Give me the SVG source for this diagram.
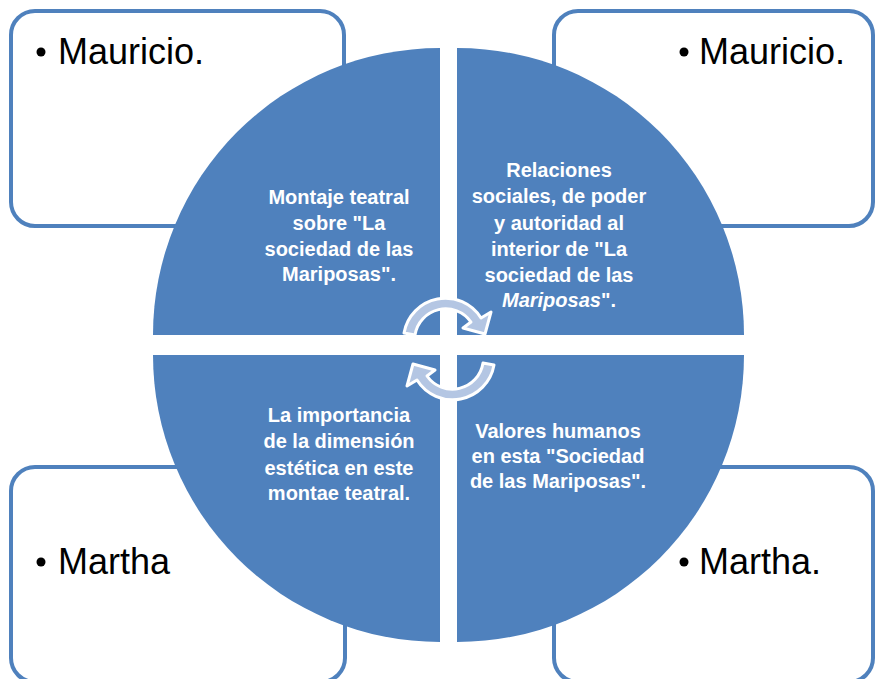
<svg xmlns="http://www.w3.org/2000/svg" width="876" height="679" viewBox="0 0 876 679">
<style>
.box{fill:#ffffff;stroke:#4f81bd;stroke-width:4}
.quad{fill:#4f81bd}
.lbl{font-family:"Liberation Sans",Arial,sans-serif;font-size:36px;fill:#000000}
.bul{fill:#000000}
.qt{font-family:"Liberation Sans",Arial,sans-serif;font-size:20px;font-weight:bold;fill:#ffffff;text-anchor:middle}
.arrow{fill:#b4c6e3;stroke:#ffffff;stroke-width:3;stroke-linejoin:round}
</style>
<rect width="876" height="679" fill="#ffffff"/>
<g id="box-tl"><rect class="box" x="11" y="11" width="333" height="215" rx="24"/><circle class="bul" cx="41" cy="52" r="4.5"/><text class="lbl" x="58" y="64">Mauricio.</text></g>
<g id="box-tr"><rect class="box" x="554" y="11" width="319" height="215" rx="24"/><circle class="bul" cx="684" cy="52" r="4.5"/><text class="lbl" x="699" y="64">Mauricio.</text></g>
<g id="box-bl"><rect class="box" x="11" y="467" width="334" height="215" rx="24"/><circle class="bul" cx="41" cy="562" r="4.5"/><text class="lbl" x="58" y="574">Martha</text></g>
<g id="box-br"><rect class="box" x="554" y="467" width="319" height="215" rx="24"/><circle class="bul" cx="684" cy="562" r="4.5"/><text class="lbl" x="699" y="574">Martha.</text></g>
<g id="quad-tl"><path class="quad" d="M440,335 L153,335 A287,287 0 0 1 440,48 Z"/>
<text class="qt"><tspan x="339" y="204">Montaje teatral</tspan><tspan x="339" y="230">sobre  "La</tspan><tspan x="339" y="256">sociedad de las</tspan><tspan x="339" y="281">Mariposas".</tspan></text></g>
<g id="quad-tr"><path class="quad" d="M457,335 L457,48 A287,287 0 0 1 744,335 Z"/>
<text class="qt"><tspan x="559" y="177">Relaciones</tspan><tspan x="559" y="203">sociales, de poder</tspan><tspan x="559" y="230">y autoridad al</tspan><tspan x="559" y="256">interior de "La</tspan><tspan x="559" y="282">sociedad de las</tspan><tspan x="559" y="307"><tspan font-style="italic">Mariposas</tspan>".</tspan></text></g>
<g id="quad-bl"><path class="quad" d="M440,355 L440,642 A287,287 0 0 1 153,355 Z"/>
<text class="qt"><tspan x="339" y="422">La importancia</tspan><tspan x="339" y="448">de la dimensión</tspan><tspan x="339" y="475">estética en este</tspan><tspan x="339" y="500">montae teatral.</tspan></text></g>
<g id="quad-br"><path class="quad" d="M457,355 L744,355 A287,287 0 0 1 457,642 Z"/>
<text class="qt"><tspan x="558" y="438">Valores humanos</tspan><tspan x="558" y="463">en esta  "Sociedad</tspan><tspan x="558" y="488">de las Mariposas".</tspan></text></g>
<g id="connectors">
<path id="arrow-top" class="arrow" d="M404,333 A42,42 0 0 1 481,318 L491,312 L485,334 L463,328 L471,322 A31,31 0 0 0 415,335 Z"/>
<path id="arrow-bottom" class="arrow" transform="rotate(180 449 349)" d="M404,333 A42,42 0 0 1 481,318 L491,312 L485,334 L463,328 L471,322 A31,31 0 0 0 415,335 Z"/>
</g>
</svg>
